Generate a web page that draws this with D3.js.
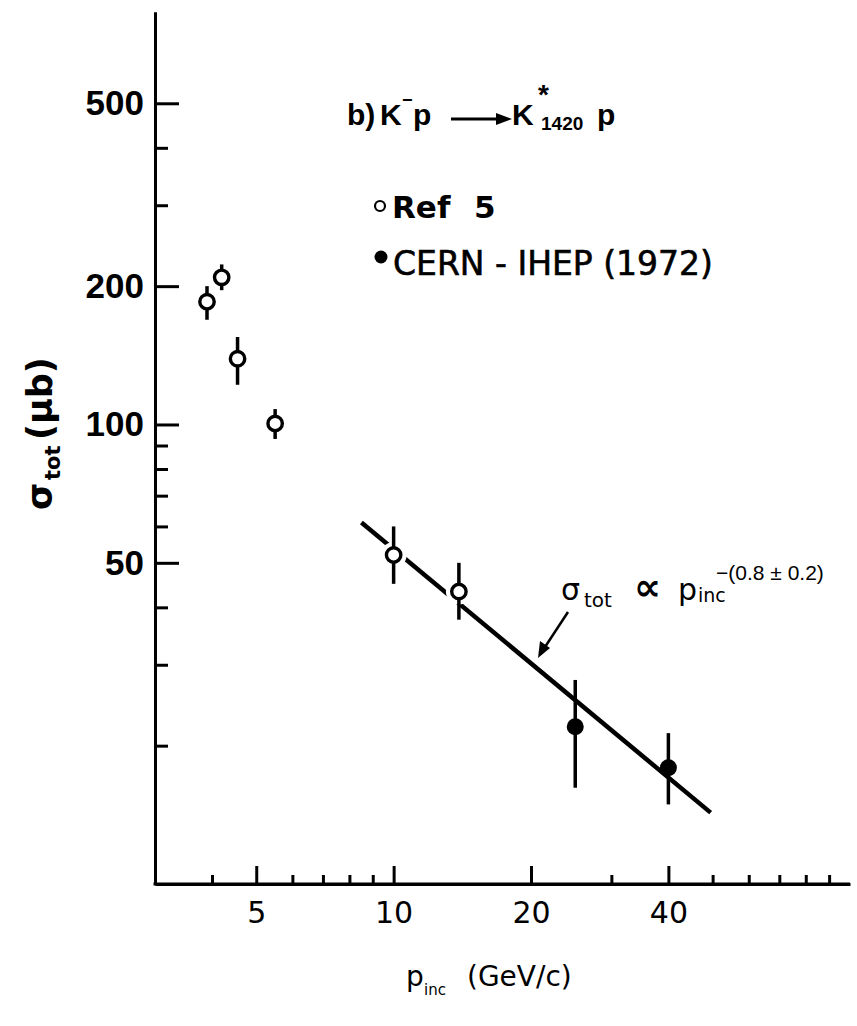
<!DOCTYPE html>
<html>

<head>
  <title>K-p cross section</title>
  <script src="https://cdn.jsdelivr.net/npm/d3@7/dist/d3.min.js"></script>
  <style>
    body { margin: 0; background: #fff; }
  </style>
</head>

<body>
  <svg width="857" height="1026" id="mainsvg" font-family="DejaVu Sans, sans-serif"></svg>
  <script>
    // Ref 5 (open circles)
    const ref5P = [3.9, 4.2, 4.55, 5.5, 10, 13.9];
    const ref5Sigma = [185, 209, 139, 100.5, 52, 43.3];
    const ref5Low = [169, 196, 122, 93, 45, 37.6];
    const ref5High = [200, 223, 155, 108, 60, 50];

    // CERN-IHEP 1972 (filled circles)
    const cernP = [25, 40];
    const cernSigma = [22, 17.9];
    const cernLow = [16.2, 14.9];
    const cernHigh = [27.8, 21.3];

    // fitted power law line, end points
    const fitP = [8.5, 49.5];
    const fitSigma = [61.2, 14.3];

    const yMajorTicks = [50, 100, 200, 500];
    const yMinorTicks = [20, 30, 40, 60, 70, 80, 90, 300, 400];
    const xMajorTicks = [5, 10, 20, 40];
    const xMinorTicks = [4, 6, 7, 8, 9, 30, 50, 60, 70, 80, 90];

    const svg = d3.select('svg');
    const sans = '"Liberation Sans", Arial, sans-serif';
    const deja = '"DejaVu Sans", sans-serif';

    const x = d3.scaleLog().domain([3, 100]).range([155, 850]);
    const y = d3.scaleLog().domain([10, 790]).range([884, 12]);

    const ref5 = ref5P.map((p, i) => ({p: p, s: ref5Sigma[i], lo: ref5Low[i], hi: ref5High[i]}));
    const cern = cernP.map((p, i) => ({p: p, s: cernSigma[i], lo: cernLow[i], hi: cernHigh[i]}));
    const fit = fitP.map((p, i) => ({p: p, s: fitSigma[i]}));

    // axes
    const yAxisMajor = svg.append('g').attr('transform', `translate(${x.range()[0]},0)`)
      .call(d3.axisLeft(y).tickValues(yMajorTicks).tickSize(-24).tickSizeOuter(0)
        .tickPadding(11).tickFormat(d3.format('d')));
    const yAxisMinor = svg.append('g').attr('transform', `translate(${x.range()[0]},0)`)
      .call(d3.axisLeft(y).tickValues(yMinorTicks).tickSize(-13).tickSizeOuter(0).tickFormat(''));
    const xAxisMajor = svg.append('g').attr('transform', `translate(0,${y.range()[0]})`)
      .call(d3.axisBottom(x).tickValues(xMajorTicks).tickSize(-18).tickSizeOuter(0)
        .tickPadding(18).tickFormat(d3.format('d')));
    const xAxisMinor = svg.append('g').attr('transform', `translate(0,${y.range()[0]})`)
      .call(d3.axisBottom(x).tickValues(xMinorTicks).tickSize(-9).tickSizeOuter(0).tickFormat(''));

    [yAxisMajor, yAxisMinor, xAxisMajor, xAxisMinor].forEach(g => {
      g.selectAll('path.domain').attr('stroke', '#000').attr('stroke-width', 3);
      g.selectAll('line').attr('stroke', '#000').attr('stroke-width', 3);
    });
    yAxisMajor.selectAll('text')
      .attr('font-family', sans).attr('font-size', 35).attr('font-weight', 'bold').attr('fill', '#000');
    xAxisMajor.selectAll('text')
      .attr('font-family', deja).attr('font-size', 30).attr('fill', '#000');
    // axis lines overlap at the corner
    xAxisMajor.select('path.domain').attr('d', `M${x.range()[0] - 1.5},0H${x.range()[1]}`);

    // fit line
    const line = d3.line().x(d => x(d.p)).y(d => y(d.s));
    svg.append('path').datum(fit)
      .attr('d', line)
      .attr('fill', 'none')
      .attr('stroke', '#000')
      .attr('stroke-width', 4.5);

    // white halo around open circles breaks the fit line
    svg.append('g').selectAll('circle').data(ref5).join('circle')
      .attr('cx', d => x(d.p)).attr('cy', d => y(d.s)).attr('r', 13)
      .attr('fill', '#fff');

    // error bars
    svg.append('g').selectAll('line').data(ref5.concat(cern)).join('line')
      .attr('x1', d => x(d.p)).attr('x2', d => x(d.p))
      .attr('y1', d => y(d.lo)).attr('y2', d => y(d.hi))
      .attr('stroke', '#000').attr('stroke-width', 3.5);

    svg.append('g').selectAll('circle').data(ref5).join('circle')
      .attr('cx', d => x(d.p)).attr('cy', d => y(d.s)).attr('r', 7.2)
      .attr('fill', '#fff').attr('stroke', '#000').attr('stroke-width', 3.4);

    svg.append('g').selectAll('circle').data(cern).join('circle')
      .attr('cx', d => x(d.p)).attr('cy', d => y(d.s)).attr('r', 8.5)
      .attr('fill', '#000');

    // axis titles
    const yTitle = svg.append('text')
      .attr('transform', 'translate(52,510) rotate(-90)')
      .attr('font-size', 35)
      .attr('font-weight', 'bold');
    yTitle.append('tspan').attr('x', 0).text('σ');
    yTitle.append('tspan').attr('x', 30).attr('font-size', 21).attr('dy', 8).text('tot');
    yTitle.append('tspan').attr('x', 70).attr('dy', -8).text('(μb)');

    const xTitle = svg.append('text').attr('y', 986).attr('font-size', 28);
    xTitle.append('tspan').attr('x', 406).text('p');
    xTitle.append('tspan').attr('x', 424).attr('font-size', 15).attr('dy', 9).text('inc');
    xTitle.append('tspan').attr('x', 467).attr('dy', -9).text('(GeV/c)');

    // reaction title
    const title = svg.append('text').attr('y', 125).attr('font-size', 30)
      .attr('font-family', sans).attr('font-weight', 'bold');
    title.append('tspan').attr('x', 347).text('b)');
    title.append('tspan').attr('x', 380).text('K');
    title.append('tspan').attr('x', 413).text('p');
    title.append('tspan').attr('x', 512).text('K');
    title.append('tspan').attr('x', 541).attr('dy', 5).attr('font-size', 19).text('1420');
    title.append('tspan').attr('x', 597).attr('dy', -5).text('p');
    svg.append('text').attr('x', 402).attr('y', 106).attr('font-size', 18)
      .attr('font-family', sans).attr('font-weight', 'bold').text('−');
    svg.append('text').attr('x', 538).attr('y', 104).attr('font-size', 28)
      .attr('font-family', sans).attr('font-weight', 'bold').text('*');
    svg.append('line').attr('x1', 451).attr('x2', 498).attr('y1', 119).attr('y2', 119)
      .attr('stroke', '#000').attr('stroke-width', 3);
    svg.append('path').attr('d', 'M496,113L512,119L496,125Z').attr('fill', '#000');

    // legend
    svg.append('circle').attr('cx', 380).attr('cy', 206).attr('r', 5)
      .attr('fill', '#fff').attr('stroke', '#000').attr('stroke-width', 2.2);
    svg.append('text').attr('y', 218).attr('font-size', 31).attr('font-weight', 'bold')
      .selectAll('tspan').data(['Ref', '5']).join('tspan')
      .attr('x', (d, i) => i ? 474 : 392).text(d => d);
    svg.append('circle').attr('cx', 381).attr('cy', 257).attr('r', 6.5).attr('fill', '#000');
    svg.append('text').attr('x', 393).attr('y', 275).attr('font-size', 33)
      .attr('stroke', '#000').attr('stroke-width', 0.6)
      .text('CERN - IHEP (1972)');

    // fit annotation
    const ann = svg.append('text').attr('y', 600).attr('font-size', 30);
    ann.append('tspan').attr('x', 561).text('σ');
    ann.append('tspan').attr('x', 584).attr('font-size', 20).attr('dy', 7).text('tot');
    ann.append('tspan').attr('x', 634).attr('dy', -7).attr('font-size', 38).attr('font-weight', 'bold').text('∝');
    ann.append('tspan').attr('x', 678).text('p');
    ann.append('tspan').attr('x', 698).attr('font-size', 19).attr('dy', 2).text('inc');
    svg.append('text').attr('x', 716).attr('y', 580).attr('font-size', 21)
      .attr('font-family', sans).text('−(0.8 ± 0.2)');
    svg.append('line').attr('x1', 568).attr('y1', 612).attr('x2', 545).attr('y2', 647)
      .attr('stroke', '#000').attr('stroke-width', 2.5);
    svg.append('path').attr('d', 'M538,658L540,641L550,648Z').attr('fill', '#000');
  </script>
</body>

</html>
